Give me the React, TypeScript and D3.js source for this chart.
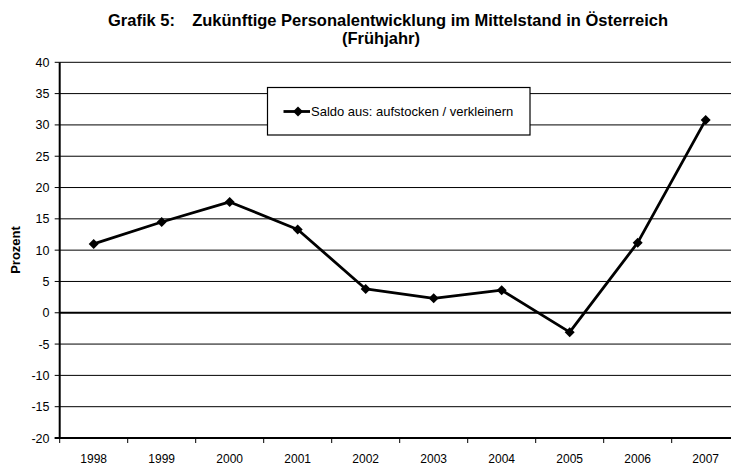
import React from "react";
import * as d3 from "d3";

const years = ["1998", "1999", "2000", "2001", "2002", "2003", "2004", "2005", "2006", "2007"];
const saldo = [11.0, 14.5, 17.7, 13.3, 3.8, 2.3, 3.6, -3.1, 11.2, 30.8];
const yTicks = [-20, -15, -10, -5, 0, 5, 10, 15, 20, 25, 30, 35, 40];
const seriesName = "Saldo aus: aufstocken / verkleinern";

const W = 731;
const H = 466;
const font = "'Liberation Sans', Arial, sans-serif";

export default function App() {
  const left = 59.7;
  const top = 62.3;
  const bottom = 438;

  // band layout like Excel: points in the middle of each category, ticks between
  const x = d3.scaleBand().domain(years).range([left, left + 68 * years.length]);
  const y = d3.scaleLinear().domain([-20, 40]).range([bottom, top]);
  const cx = (d: string) => x(d)! + x.bandwidth() / 2;

  const line = d3
    .line<number>()
    .x((d, i) => cx(years[i]))
    .y((d) => y(d));

  // square turned by 45deg -> diamond like the Excel marker
  const marker = d3.symbol().type(d3.symbolSquare).size(50)();
  const tickXs = years.map((d) => x(d)!).concat([x.range()[1]]);

  return (
    <svg width={W} height={H} style={{ position: "absolute", left: 0, top: 0 }} fontFamily={font}>
      <rect width={W} height={H} fill="#fff" />

      {/* title */}
      <text x={108} y={26} fontSize={16.5} fontWeight="bold">
        Grafik 5:
      </text>
      <text x={668} y={26} textAnchor="end" fontSize={16.5} fontWeight="bold">
        Zukünftige Personalentwicklung im Mittelstand in Österreich
      </text>
      <text x={381} y={44} textAnchor="middle" fontSize={16.5} fontWeight="bold">
        (Frühjahr)
      </text>

      {/* gridlines */}
      {yTicks.map((t) => (
        <line
          key={t}
          x1={left}
          x2={x.range()[1]}
          y1={y(t)}
          y2={y(t)}
          stroke="#000"
          strokeWidth={t === 0 ? 2.2 : 1}
        />
      ))}

      {/* y axis */}
      <line x1={left} x2={left} y1={top} y2={bottom} stroke="#000" strokeWidth={2} />
      {yTicks.map((t) => (
        <g key={"yt" + t}>
          <line x1={left - 5} x2={left} y1={y(t)} y2={y(t)} stroke="#000" strokeWidth={1} />
          <text x={49.5} y={y(t) + 4.5} textAnchor="end" fontSize={12.5}>
            {t}
          </text>
        </g>
      ))}
      <text
        transform={`translate(20,${250}) rotate(-90)`}
        textAnchor="middle"
        fontSize={13}
        fontWeight="bold"
      >
        Prozent
      </text>

      {/* x axis */}
      <line x1={left - 5} x2={x.range()[1]} y1={bottom} y2={bottom} stroke="#000" strokeWidth={2} />
      {tickXs.map((tx, i) => (
        <line key={"xt" + i} x1={tx} x2={tx} y1={bottom} y2={bottom + 5} stroke="#000" strokeWidth={1} />
      ))}
      {years.map((d) => (
        <text key={d} x={cx(d)} y={462.5} textAnchor="middle" fontSize={12}>
          {d}
        </text>
      ))}

      {/* series */}
      <path d={line(saldo)!} fill="none" stroke="#000" strokeWidth={2.8} strokeLinejoin="round" />
      {saldo.map((v, i) => (
        <path
          key={"m" + i}
          d={marker!}
          transform={`translate(${cx(years[i])},${y(v)}) rotate(45)`}
          fill="#000"
        />
      ))}

      {/* legend */}
      <rect x={267.5} y={87.5} width={262.5} height={47.5} fill="#fff" stroke="#000" strokeWidth={1.2} />
      <line x1={283.5} x2={310} y1={111.5} y2={111.5} stroke="#000" strokeWidth={2.8} />
      <path d={marker!} transform="translate(298,111.5) rotate(45)" fill="#000" />
      <text x={311} y={116} fontSize={13}>
        {seriesName}
      </text>
    </svg>
  );
}
